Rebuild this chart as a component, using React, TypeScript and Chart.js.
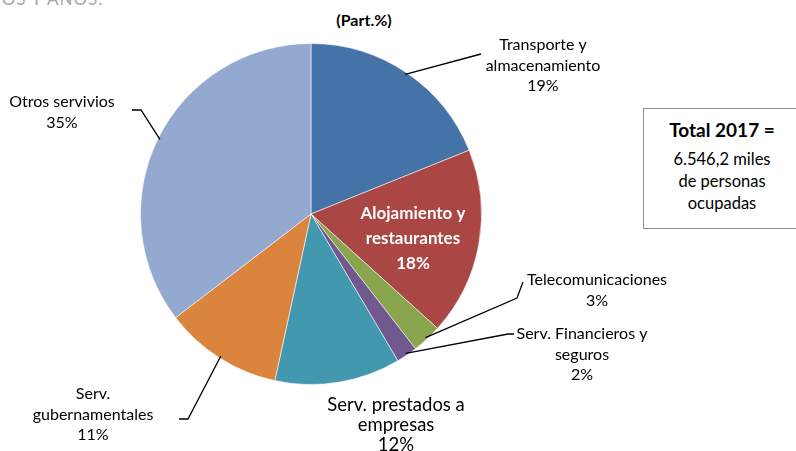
import React, { useEffect, useRef } from "react";
import { Chart, registerables } from "chart.js";

Chart.register(...registerables);

const categories = [
  "Transporte y almacenamiento",
  "Alojamiento y restaurantes",
  "Telecomunicaciones",
  "Serv. Financieros y seguros",
  "Serv. prestados a empresas",
  "Serv. gubernamentales",
  "Otros servivios",
];
const shares = [18.9, 17.8, 2.8, 2.0, 11.9, 11.2, 35.4];
const colors = ["#4572A7", "#AA4643", "#89A54E", "#71588F", "#4198AF", "#DB843D", "#93A9CF"];
const labelLines = [
  ["Transporte y", "almacenamiento"],
  ["Alojamiento y", "restaurantes"],
  ["Telecomunicaciones"],
  ["Serv. Financieros y", "seguros"],
  ["Serv. prestados a", "empresas"],
  ["Serv.", "gubernamentales"],
  ["Otros servivios"],
];
const titleText = "(Part.%)";
const boxTitle = "Total 2017 =";
const boxLines = ["6.546,2 miles", "de personas", "ocupadas"];
const topText = "IOS Y AÑOS.";

// label layout: text center x, first line y, font size, line step, leader elbow, leader end
const labelLayout = [
  { x: 543, y: 45, size: 16, step: 20.5, inside: false, lead: [[481, 54]] },
  { x: 413, y: 214, size: 17, step: 25, inside: true, lead: [] },
  { x: 597, y: 280, size: 16, step: 20.5, inside: false, lead: [[517, 298], [523, 282]] },
  { x: 582, y: 334, size: 16, step: 20.5, inside: false, lead: [[508, 334], [514, 334]] },
  { x: 396, y: 405, size: 18.5, step: 20, inside: false, lead: [] },
  { x: 93, y: 394, size: 16, step: 20.5, inside: false, lead: [[188, 419], [179, 419]] },
  { x: 62, y: 102, size: 16, step: 20.5, inside: false, lead: [[141, 110], [132, 110]] },
];

const FONT = "Lato, 'Noto Sans', sans-serif";

const labelPlugin = {
  id: "pieLabels",
  afterDraw(chart: any) {
    const ctx = chart.ctx;
    const meta = chart.getDatasetMeta(0);
    ctx.save();
    meta.data.forEach((arc: any, i: number) => {
      const L = labelLayout[i];
      const { x: cx, y: cy, startAngle, endAngle, outerRadius } = arc.getProps(
        ["x", "y", "startAngle", "endAngle", "outerRadius"],
        true
      );
      if (L.lead.length) {
        const mid = (startAngle + endAngle) / 2;
        const sx = cx + Math.cos(mid) * (outerRadius - 2);
        const sy = cy + Math.sin(mid) * (outerRadius - 2);
        ctx.beginPath();
        ctx.strokeStyle = "#000";
        ctx.lineWidth = 1.3;
        ctx.moveTo(sx, sy);
        L.lead.forEach((p: number[]) => ctx.lineTo(p[0], p[1]));
        ctx.stroke();
      }
      const lines = [...labelLines[i], Math.round(shares[i]) + "%"];
      ctx.textAlign = "center";
      ctx.textBaseline = "middle";
      if (L.inside) {
        ctx.fillStyle = "#fff";
        ctx.font = "bold " + L.size + "px " + FONT;
      } else {
        ctx.fillStyle = "#000";
        ctx.font = L.size + "px " + FONT;
      }
      lines.forEach((t, k) => ctx.fillText(t, L.x, L.y + k * L.step));
    });
    ctx.restore();
  },
};

export default function App() {
  const ref = useRef<HTMLCanvasElement>(null);
  useEffect(() => {
    if (!ref.current) return;
    const chart = new Chart(ref.current, {
      type: "pie",
      data: {
        labels: categories,
        datasets: [
          {
            data: shares,
            backgroundColor: colors,
            borderColor: "rgba(255,255,255,0.55)",
            borderWidth: 1,
          },
        ],
      },
      options: {
        animation: false,
        responsive: false,
        layout: { padding: { top: 43, bottom: 66, left: 140, right: 314 } },
        plugins: {
          legend: { display: false },
          tooltip: { enabled: false },
          title: { display: false },
        },
      },
      plugins: [labelPlugin],
    });
    return () => chart.destroy();
  }, []);

  return (
    <div
      style={{
        position: "fixed",
        left: 0,
        top: 0,
        width: 796,
        height: 451,
        background: "#fff",
        overflow: "hidden",
        fontFamily: FONT,
      }}
    >
      <div
        style={{
          position: "absolute",
          left: -4,
          top: -12,
          fontSize: 17,
          color: "#a6a6a6",
          whiteSpace: "nowrap",
          letterSpacing: 1,
        }}
      >
        {topText}
      </div>
      <div
        style={{
          position: "absolute",
          left: 264,
          top: 10,
          width: 200,
          textAlign: "center",
          fontSize: 16,
          fontWeight: 700,
          color: "#000",
          lineHeight: "20px",
        }}
      >
        {titleText}
      </div>
      <canvas ref={ref} width={796} height={451} style={{ position: "absolute", left: 0, top: 0 }} />
      <div
        style={{
          position: "absolute",
          left: 643,
          top: 108,
          width: 160,
          height: 121,
          border: "1px solid #8c8c8c",
          boxSizing: "border-box",
          background: "#fff",
          textAlign: "center",
          color: "#000",
        }}
      >
        <div style={{ width: 156, marginTop: 9, fontWeight: 700, fontSize: 19, lineHeight: "24px" }}>
          {boxTitle}
        </div>
        <div style={{ width: 156, marginTop: 6, fontSize: 16.5, lineHeight: "22px" }}>
          {boxLines.map((t) => (
            <div key={t}>{t}</div>
          ))}
        </div>
      </div>
    </div>
  );
}
